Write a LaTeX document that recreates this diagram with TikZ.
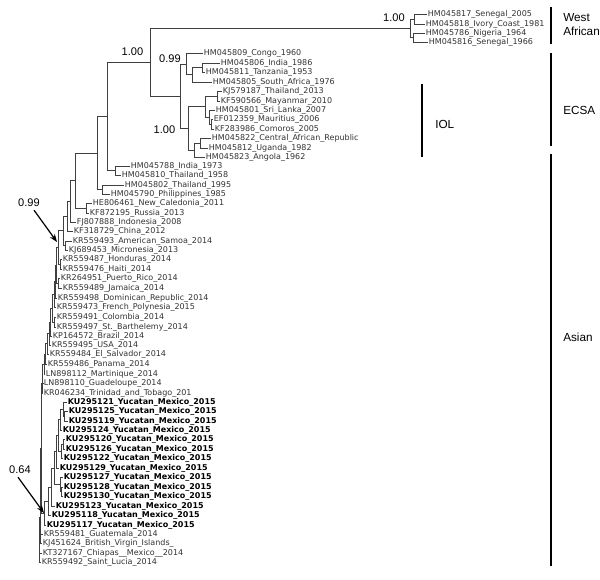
\documentclass[tikz,border=0pt]{standalone}
\usepackage{fontspec}
\usetikzlibrary{arrows.meta}
\newfontfamily\dvs{DejaVu Sans}
\newfontfamily\lbs{Liberation Sans}
\tikzset{
  x=0.75pt, y=-0.75pt,
  lf/.style={anchor=west, inner sep=0.5pt, font=\dvs\fontsize{6}{7}\selectfont, text=black!80},
  yl/.style={lf, font=\dvs\bfseries\fontsize{6}{7}\selectfont, text=black},
  br/.style={line width=0.6pt, draw=black!75},
  supp/.style={font=\lbs\fontsize{8.3}{10}\selectfont, inner sep=0pt},
  clab/.style={font=\lbs\fontsize{8.8}{10.5}\selectfont, anchor=west, align=left, inner sep=0pt},
  bar/.style={line width=1.3pt},
  arr/.style={-{Stealth[length=6pt,width=4.5pt]}, line width=0.9pt},
}
\newcommand\leaf[4]{\node[lf] (#1) at (#2,#3) {#4};}
\newcommand\yleaf[4]{\node[yl] (#1) at (#2,#3) {#4};}
\newcommand\nd[3]{\coordinate (#1) at (#2,#3);}
\newcommand\tol[2]{\draw[br] (#1) |- (#2.west);}
\newcommand\ton[2]{\draw[br] (#1) |- (#2);}
\begin{document}
\begin{tikzpicture}
\fill[white] (0,0) rectangle (600,579);
\useasboundingbox (0,0) rectangle (600,579);
% ---------- West African
\leaf{w1}{427}{14.5}{HM045817\_Senegal\_2005}
\leaf{w2}{425}{24}{HM045818\_Ivory\_Coast\_1981}
\leaf{w3}{425}{33}{HM045786\_Nigeria\_1964}
\leaf{w4}{428}{42}{HM045816\_Senegal\_1966}
\nd{nW1}{414}{19.25}\nd{nW2}{413}{37.5}\nd{nWA}{410}{28.4}
\tol{nW1}{w1}\tol{nW1}{w2}\tol{nW2}{w3}\tol{nW2}{w4}
\ton{nWA}{nW1}\ton{nWA}{nW2}
% ---------- ECSA
\leaf{e1}{203}{53}{HM045809\_Congo\_1960}
\leaf{e2}{220}{63}{HM045806\_India\_1986}
\leaf{e3}{205}{72}{HM045811\_Tanzania\_1953}
\leaf{e4}{212}{82}{HM045805\_South\_Africa\_1976}
\leaf{e5}{222}{91}{KJ579187\_Thailand\_2013}
\leaf{e6}{220}{101}{KF590566\_Mayanmar\_2010}
\leaf{e7}{215}{110}{HM045801\_Sri\_Lanka\_2007}
\leaf{e8}{213}{119}{EF012359\_Mauritius\_2006}
\leaf{e9}{214}{129}{KF283986\_Comoros\_2005}
\leaf{e10}{211}{138}{HM045822\_Central\_African\_Republic}
\leaf{e11}{208}{148}{HM045812\_Uganda\_1982}
\leaf{e12}{205}{157}{HM045823\_Angola\_1962}
\nd{nE23}{202}{67.5}\nd{nEB}{192}{74.75}\nd{nN99}{186}{63.9}
\nd{nE56}{217}{96}\nd{nE89}{211}{124}\nd{nI2}{209}{117}\nd{nI1}{205}{106.5}
\nd{nE1011}{200}{143}\nd{nEG}{194}{150}\nd{nN100}{188}{128.25}
\nd{nECSA}{180}{96.1}\nd{nWE}{150}{62.2}
\tol{nE23}{e2}\tol{nE23}{e3}\ton{nEB}{nE23}\tol{nEB}{e4}
\tol{nN99}{e1}\ton{nN99}{nEB}
\tol{nE56}{e5}\tol{nE56}{e6}\tol{nE89}{e8}\tol{nE89}{e9}
\tol{nI2}{e7}\ton{nI2}{nE89}\ton{nI1}{nE56}\ton{nI1}{nI2}
\tol{nE1011}{e10}\tol{nE1011}{e11}\ton{nEG}{nE1011}\tol{nEG}{e12}
\ton{nN100}{nI1}\ton{nN100}{nEG}
\ton{nECSA}{nN99}\ton{nECSA}{nN100}
\ton{nWE}{nWA}\ton{nWE}{nECSA}
% ---------- Asian (upper)
\leaf{a1}{130}{166}{HM045788\_India\_1973}
\leaf{a2}{121}{175}{HM045810\_Thailand\_1958}
\leaf{a3}{124}{185}{HM045802\_Thailand\_1995}
\leaf{a4}{110}{194}{HM045790\_Philippines\_1985}
\leaf{a5}{92}{203}{HE806461\_New\_Caledonia\_2011}
\leaf{a6}{89}{213}{KF872195\_Russia\_2013}
\nd{nA12}{115}{170.5}\nd{nQ}{107}{116.3}\nd{nA34}{102}{189.5}
\nd{nP}{97}{152.9}\nd{nA56}{86}{208}\nd{nS1}{75}{180.5}
\tol{nA12}{a1}\tol{nA12}{a2}\ton{nQ}{nWE}\ton{nQ}{nA12}
\tol{nA34}{a3}\tol{nA34}{a4}\ton{nP}{nQ}\ton{nP}{nA34}
\tol{nA56}{a5}\tol{nA56}{a6}\ton{nS1}{nP}\ton{nS1}{nA56}
% ---------- Asian (ladder)
\leaf{a7}{76}{222}{FJ807888\_Indonesia\_2008}
\leaf{a8}{73}{231}{KF318729\_China\_2012}
\leaf{a9}{72}{241}{KR559493\_American\_Samoa\_2014}
\leaf{a10}{68}{250}{KJ689453\_Micronesia\_2013}
\leaf{a11}{62}{259}{KR559487\_Honduras\_2014}
\leaf{a12}{62}{269}{KR559476\_Haiti\_2014}
\leaf{a13}{60}{278}{KR264951\_Puerto\_Rico\_2014}
\leaf{a14}{62}{288}{KR559489\_Jamaica\_2014}
\leaf{a15}{57}{298}{KR559498\_Dominican\_Republic\_2014}
\leaf{a16}{56}{307}{KR559473\_French\_Polynesia\_2015}
\leaf{a17}{56}{317}{KR559491\_Colombia\_2014}
\leaf{a18}{56}{327}{KR559497\_St.\_Barthelemy\_2014}
\leaf{a19}{52}{336}{KP164572\_Brazil\_2014}
\leaf{a20}{51}{345}{KR559495\_USA\_2014}
\leaf{a21}{49}{354}{KR559484\_El\_Salvador\_2014}
\leaf{a22}{47}{364}{KR559486\_Panama\_2014}
\leaf{a23}{45}{374}{LN898112\_Martinique\_2014}
\leaf{a24}{43}{383}{LN898110\_Guadeloupe\_2014}
\leaf{a25}{43}{393}{KR046234\_Trinidad\_and\_Tobago\_201}
\yleaf{y1}{67}{402}{KU295121\_Yucatan\_Mexico\_2015}
\yleaf{y2}{68}{411}{KU295125\_Yucatan\_Mexico\_2015}
\yleaf{y3}{68}{421}{KU295119\_Yucatan\_Mexico\_2015}
\yleaf{y4}{62}{430}{KU295124\_Yucatan\_Mexico\_2015}
\yleaf{y5}{65}{439}{KU295120\_Yucatan\_Mexico\_2015}
\yleaf{y6}{65}{449}{KU295126\_Yucatan\_Mexico\_2015}
\yleaf{y7}{63}{458}{KU295122\_Yucatan\_Mexico\_2015}
\yleaf{y8}{59}{468}{KU295129\_Yucatan\_Mexico\_2015}
\yleaf{y9}{63}{477}{KU295127\_Yucatan\_Mexico\_2015}
\yleaf{y10}{63}{487}{KU295128\_Yucatan\_Mexico\_2015}
\yleaf{y11}{63}{496}{KU295130\_Yucatan\_Mexico\_2015}
\yleaf{y12}{55}{506}{KU295123\_Yucatan\_Mexico\_2015}
\yleaf{y13}{51}{515}{KU295118\_Yucatan\_Mexico\_2015}
\yleaf{y14}{46}{525}{KU295117\_Yucatan\_Mexico\_2015}
\leaf{b1}{43}{534}{KR559481\_Guatemala\_2014}
\leaf{b2}{42}{543}{KJ451624\_British\_Virgin\_Islands\_}
\leaf{b3}{42}{553}{KT327167\_Chiapas\_\_Mexico\_\_2014}
\leaf{b4}{41}{562}{KR559492\_Saint\_Lucia\_2014}
% ladder nodes
\nd{cFJ}{70}{201.25}\nd{cCn}{67}{216.1}\nd{pAM}{65}{245.5}\nd{cAM}{63}{230.8}
\nd{pHH}{60}{264}\nd{cHH}{58.5}{247.4}\nd{pPJ}{58}{283}\nd{cPJ}{56.5}{265.2}
\nd{cDR}{55}{281.6}\nd{cFP}{54}{294.3}\nd{pCS}{54.5}{322}\nd{cCS}{52.5}{308.2}
\nd{cBr}{50.5}{322.1}\nd{cUS}{49.5}{333.5}\nd{cES}{47.5}{343.8}\nd{cPa}{45.5}{353.9}
\nd{cMq}{44}{363.9}\nd{cGd}{42.5}{373.5}\nd{cTr}{42}{383.2}
\nd{cY}{41}{448.1}\nd{cGu}{40.5}{491}\nd{cBVI}{40}{517}\nd{cCh}{39.5}{535}\nd{cSL}{39}{548.5}
% Yucatan nodes
\nd{Ya}{64.5}{416}\nd{Yb}{63}{409}\nd{Yc}{60.5}{419.5}\nd{Yd}{63}{444}\nd{Ye}{61}{451}
\nd{Yf}{58}{435.25}\nd{Yg}{56}{451.6}\nd{Yh2}{61.5}{491.5}\nd{Yh}{60}{484.25}
\nd{Yi}{54}{467.9}\nd{Yj}{51.5}{487}\nd{Yk}{48}{501}\nd{Yl}{44}{513}
% ladder edges
\ton{cFJ}{nS1}\tol{cFJ}{a7}
\ton{cCn}{cFJ}\tol{cCn}{a8}
\tol{pAM}{a9}\tol{pAM}{a10}\ton{cAM}{cCn}\ton{cAM}{pAM}
\tol{pHH}{a11}\tol{pHH}{a12}\ton{cHH}{cAM}\ton{cHH}{pHH}
\tol{pPJ}{a13}\tol{pPJ}{a14}\ton{cPJ}{cHH}\ton{cPJ}{pPJ}
\ton{cDR}{cPJ}\tol{cDR}{a15}
\ton{cFP}{cDR}\tol{cFP}{a16}
\tol{pCS}{a17}\tol{pCS}{a18}\ton{cCS}{cFP}\ton{cCS}{pCS}
\ton{cBr}{cCS}\tol{cBr}{a19}
\ton{cUS}{cBr}\tol{cUS}{a20}
\ton{cES}{cUS}\tol{cES}{a21}
\ton{cPa}{cES}\tol{cPa}{a22}
\ton{cMq}{cPa}\tol{cMq}{a23}
\ton{cGd}{cMq}\tol{cGd}{a24}
\ton{cTr}{cGd}\tol{cTr}{a25}
\ton{cY}{cTr}\ton{cY}{Yl}
\ton{cGu}{cY}\tol{cGu}{b1}
\ton{cBVI}{cGu}\tol{cBVI}{b2}
\ton{cCh}{cBVI}\tol{cCh}{b3}
\ton{cSL}{cCh}\tol{cSL}{b4}
% Yucatan edges
\tol{Ya}{y2}\tol{Ya}{y3}\tol{Yb}{y1}\ton{Yb}{Ya}
\ton{Yc}{Yb}\tol{Yc}{y4}
\tol{Yd}{y5}\tol{Yd}{y6}\ton{Ye}{Yd}\tol{Ye}{y7}
\ton{Yf}{Yc}\ton{Yf}{Ye}
\ton{Yg}{Yf}\tol{Yg}{y8}
\tol{Yh2}{y10}\tol{Yh2}{y11}\tol{Yh}{y9}\ton{Yh}{Yh2}
\ton{Yi}{Yg}\ton{Yi}{Yh}
\ton{Yj}{Yi}\tol{Yj}{y12}
\ton{Yk}{Yj}\tol{Yk}{y13}
\ton{Yl}{Yk}\tol{Yl}{y14}
% ---------- support values
\node[supp] (s1) at (394,18) {1.00};
\node[supp] (s2) at (132.5,52) {1.00};
\node[supp] (s3) at (170,59) {0.99};
\node[supp] (s4) at (164.5,130) {1.00};
\node[supp] (s5) at (29,203) {0.99};
\node[supp] (s6) at (20,470) {0.64};
\coordinate (t5) at (57,242);
\coordinate (t6) at (44,513);
\draw[arr] (s5.south east) ++(-6,3) -- (t5);
\draw[arr] (s6.south) ++(-2,3) -- (t6);
% ---------- clade bars
\coordinate (bw1) at (551,7);\coordinate (bw2) at (551,44);
\coordinate (be1) at (551,53);\coordinate (be2) at (551,146);
\coordinate (ba1) at (551,154);\coordinate (ba2) at (551,566);
\coordinate (bi1) at (422,84);\coordinate (bi2) at (422,157);
\draw[bar] (bw1) -- (bw2);
\draw[bar] (be1) -- (be2);
\draw[bar] (ba1) -- (ba2);
\draw[bar] (bi1) -- (bi2);
\node[clab] (lw) at (563,25) {West\\African};
\node[clab] (le) at (563,110) {ECSA};
\node[clab] (li) at (435,124) {IOL};
\node[clab] (la) at (563,337) {Asian};
\end{tikzpicture}
\end{document}
